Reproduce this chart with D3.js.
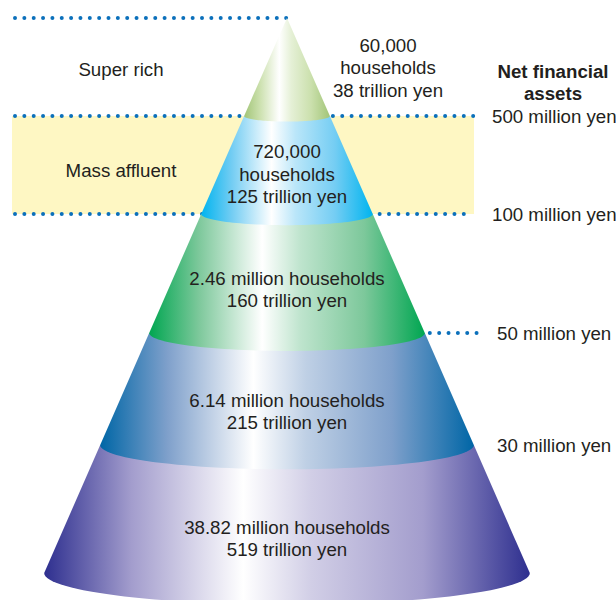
<!DOCTYPE html>
<html>
<head>
<meta charset="utf-8">
<script src="https://cdn.jsdelivr.net/npm/d3@7"></script>
<style>
  html, body { margin: 0; padding: 0; background: #ffffff; }
  svg { display: block; }
  text { font-family: "Liberation Sans", Arial, Helvetica, sans-serif; fill: #231f20; }
</style>
</head>
<body>
<svg id="chart" width="616" height="600"></svg>
<script>
// ---------- data ----------
const segments = ["Super rich", "Mass affluent", "Upper affluent", "Upper mass", "Mass"];
const households = ["60,000 households", "720,000 households", "2.46 million households", "6.14 million households", "38.82 million households"];
const assets = ["38 trillion yen", "125 trillion yen", "160 trillion yen", "215 trillion yen", "519 trillion yen"];
const thresholds = ["500 million yen", "100 million yen", "50 million yen", "30 million yen"];
const axisTitle = ["Net financial", "assets"];
const sideLabels = ["Super rich", "Mass affluent"];
const darkColors = ["#a2c578", "#00b4ef", "#00a651", "#0066a6", "#2e2f8f"];
const midColors  = ["#cbe0ad", "#74cdf3", "#7dc89b", "#7fa0cb", "#a39dcd"];

// ---------- layout ----------
const W = 616, H = 600;
const apexX = 287;
const svg = d3.select("#chart");
const y = d3.scaleLinear().domain([0, 1, 2, 3, 4, 5]).range([18, 116, 214, 333, 445, 573]);
const slope = 0.4375;
const hw = yy => (yy - y(0)) * slope;
const ryOf = yy => hw(yy) * 0.13;
const fontSize = 18.7;
const lineH = 22.5;

const defs = svg.append("defs");
segments.forEach((s, i) => {
  const g = defs.append("linearGradient").attr("id", "grad" + i)
    .attr("x1", 0).attr("x2", 1).attr("y1", 0).attr("y2", 0);
  const stops = [
    [0, darkColors[i]], [0.18, midColors[i]], [0.41, "#ffffff"],
    [0.55, d3.interpolateRgb("#ffffff", midColors[i])(0.5)], [0.78, midColors[i]], [1, darkColors[i]]
  ];
  stops.forEach(([o, c]) => g.append("stop").attr("offset", o).attr("stop-color", c));
});

// yellow band for mass affluent
svg.append("rect")
  .attr("x", 12).attr("y", y(1)).attr("width", 474 - 12).attr("height", y(2) - y(1))
  .attr("fill", "#fef7c3");

// dotted lines
const dotLines = [
  { x1: 15, x2: apexX, yy: y(0) },
  { x1: 15, x2: 481, yy: y(1) },
  { x1: 15, x2: 473, yy: y(2) },
  { x1: apexX + hw(y(3)) + 5, x2: 482, yy: y(3) }
];
svg.selectAll("line.dots").data(dotLines).enter().append("line")
  .attr("class", "dots")
  .attr("x1", d => d.x1).attr("x2", d => d.x2)
  .attr("y1", d => d.yy).attr("y2", d => d.yy)
  .attr("stroke", "#0b70bb").attr("stroke-width", 4)
  .attr("stroke-linecap", "round").attr("stroke-dasharray", "0 9.35");

// cone layers (draw bottom first so upper layers overlap)
function layerPath(i) {
  const yt = y(i), yb = y(i + 1);
  const ht = hw(yt), hb = hw(yb);
  const rb = ryOf(yb);
  const p = d3.path();
  if (i === 0) {
    p.moveTo(apexX, yt);
  } else {
    p.moveTo(apexX - ht, yt);
    p.lineTo(apexX + ht, yt);
  }
  p.lineTo(apexX + hb, yb);
  const n = 60;
  for (let k = 1; k <= n; k++) {
    const t = k / n * Math.PI;
    p.lineTo(apexX + hb * Math.cos(t), yb + rb * Math.sin(t));
  }
  p.closePath();
  return p.toString();
}
const order = d3.range(segments.length).reverse();
svg.selectAll("path.layer").data(order).enter().append("path")
  .attr("class", "layer")
  .attr("d", d => layerPath(d))
  .attr("fill", d => "url(#grad" + d + ")");

// labels inside cone
const inner = d3.range(1, segments.length);
inner.forEach(i => {
  const yt = y(i), yb = y(i + 1);
  const cy = (yt + yb) / 2 + ryOf(yb) - 2;
  let lines;
  if (i === 1) {
    const parts = households[i].split(" ");
    lines = [parts[0], parts.slice(1).join(" "), assets[i]];
  } else {
    lines = [households[i], assets[i]];
  }
  const y0 = cy - (lines.length - 1) * lineH / 2;
  svg.append("g").selectAll("text").data(lines).enter().append("text")
    .attr("x", apexX).attr("y", (d, k) => y0 + k * lineH)
    .attr("dy", "0.35em").attr("text-anchor", "middle")
    .attr("font-size", fontSize).text(d => d);
});

// top layer label (outside)
{
  const parts = households[0].split(" ");
  const lines = [parts[0], parts.slice(1).join(" "), assets[0]];
  svg.append("g").selectAll("text").data(lines).enter().append("text")
    .attr("x", 388).attr("y", (d, k) => 45 + k * lineH)
    .attr("dy", "0.35em").attr("text-anchor", "middle")
    .attr("font-size", fontSize).text(d => d);
}

// side labels
svg.append("text").attr("x", 121).attr("y", 69).attr("dy", "0.35em")
  .attr("text-anchor", "middle").attr("font-size", fontSize).text(sideLabels[0]);
svg.append("text").attr("x", 121).attr("y", 170).attr("dy", "0.35em")
  .attr("text-anchor", "middle").attr("font-size", fontSize).text(sideLabels[1]);

// axis title
svg.append("g").selectAll("text").data(axisTitle).enter().append("text")
  .attr("x", 553).attr("y", (d, k) => 71 + k * lineH).attr("dy", "0.35em")
  .attr("text-anchor", "middle").attr("font-size", fontSize).attr("font-weight", "bold")
  .text(d => d);

// threshold labels
svg.append("g").selectAll("text").data(thresholds).enter().append("text")
  .attr("x", (d, k) => k < 2 ? 492 : 497)
  .attr("y", (d, k) => y(k + 1)).attr("dy", "0.35em")
  .attr("font-size", fontSize).text(d => d);
</script>
</body>
</html>
